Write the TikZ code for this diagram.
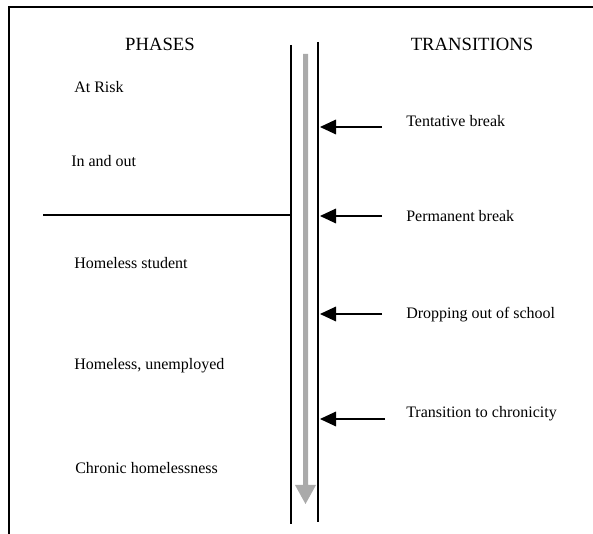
\documentclass[tikz,border=0pt]{standalone}
\usepackage{fontspec}
\setmainfont{Liberation Serif}
\usetikzlibrary{arrows.meta}
\begin{document}
\begin{tikzpicture}[x=0.75pt,y=-0.75pt,
  lbl/.style={anchor=west,inner sep=0pt,text height=8pt,text depth=2.5pt,font=\fontsize{12}{14}\selectfont},
  heading/.style={inner sep=0pt,text height=9pt,text depth=0pt,font=\fontsize{14}{16}\selectfont},
  rule/.style={line width=0.9pt},
  trans/.style={line width=0.9pt,-{Triangle[length=12pt,width=11pt]}},
  flow/.style={fill={rgb,255:red,170;green,170;blue,170}}]
\useasboundingbox (0,0) rectangle (593,534);
% frame
\draw[line width=1pt] (9,534) -- (9,7) -- (593,7);
% headings
\node[heading] (phases) at (160,45) {PHASES};
\node[heading] (transitions) at (472,45) {TRANSITIONS};
% vertical rails
\coordinate (lt) at (291,45);
\coordinate (lb) at (291,524);
\coordinate (rt) at (318,42);
\coordinate (rb) at (318,522);
\draw[rule] (lt) -- (lb);
\draw[rule] (rt) -- (rb);
% grey flow arrow
\fill[flow] (303,54) -- (308,54) -- (308,485) -- (316,485) -- (305.5,504) -- (295,485) -- (303,485) -- cycle;
% phase divider
\coordinate (divl) at (43,215);
\coordinate (divr) at (291,215);
\draw[rule] (divl) -- (divr);
% phases
\node[lbl] (atrisk) at (74,89) {At Risk};
\node[lbl] (inout) at (71,163) {In and out};
\node[lbl] (student) at (74,265) {Homeless student};
\node[lbl] (unemp) at (74,366) {Homeless, unemployed};
\node[lbl] (chronic) at (75,470) {Chronic homelessness};
% transitions
\node[lbl] (tent) at (406,123) {Tentative break};
\node[lbl] (perm) at (406,218) {Permanent break};
\node[lbl] (drop) at (406,315) {Dropping out of school};
\node[lbl] (chron) at (406,414) {Transition to chronicity};
% transition arrows
\coordinate (a1s) at (382,127); \coordinate (a1e) at (320,127);
\coordinate (a2s) at (382,216); \coordinate (a2e) at (320,216);
\coordinate (a3s) at (382,314); \coordinate (a3e) at (320,314);
\coordinate (a4s) at (385,419); \coordinate (a4e) at (320,419);
\draw[trans] (a1s) -- (a1e);
\draw[trans] (a2s) -- (a2e);
\draw[trans] (a3s) -- (a3e);
\draw[trans] (a4s) -- (a4e);
\end{tikzpicture}
\end{document}
